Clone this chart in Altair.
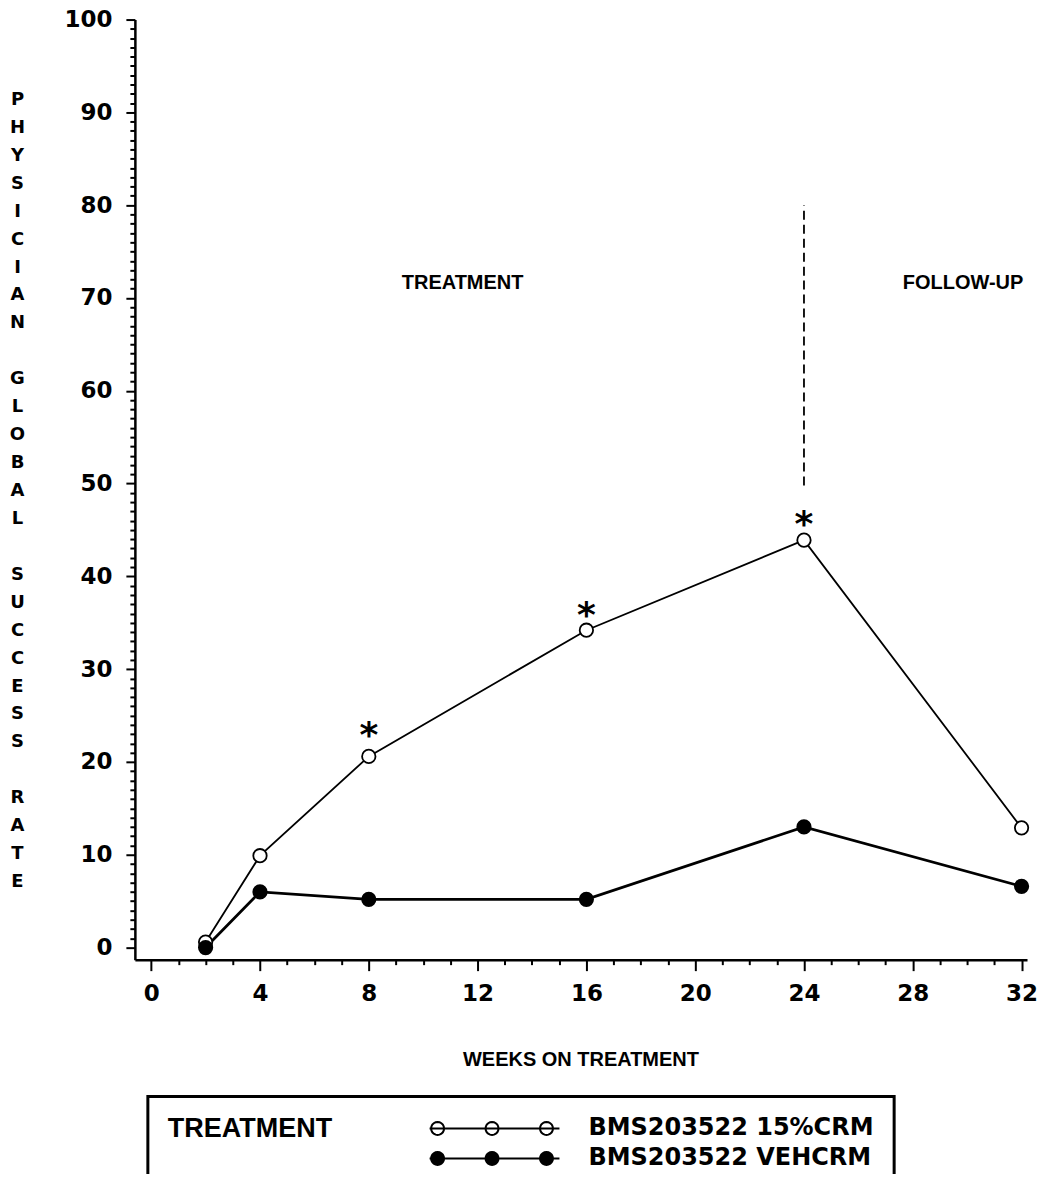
import math
import altair as alt
import pandas as pd

# ---- data ----
weeks = [2, 4, 8, 16, 24, 32]
crm15 = [0.6, 9.9, 20.6, 34.2, 43.9, 12.9]
vehcrm = [0.0, 6.0, 5.2, 5.2, 13.0, 6.6]
series_names = ["BMS203522 15%CRM", "BMS203522 VEHCRM"]

star_weeks = [8, 16, 24]
star_values = [23.8, 36.7, 46.5]

phase_labels = ["TREATMENT", "FOLLOW-UP"]
phase_x = [11.45, 29.85]
phase_y = [71.0, 71.0]

divider_week = [24]
divider_from = [49.8]
divider_to = [80.0]

x_ticks = list(range(0, 33))
y_ticks = list(range(0, 101))
BLANK = "\u2800"
y_title = list("PHYSICIAN") + [BLANK] + list("GLOBAL") + [BLANK] + list("SUCCESS") + [BLANK] + list("RATE")

# ---- tables ----
df = pd.DataFrame({
    "week": weeks * 2,
    "rate": crm15 + vehcrm,
    "series": [series_names[0]] * len(weeks) + [series_names[1]] * len(weeks),
})
stars = pd.DataFrame({"week": star_weeks, "rate": star_values})
phases = pd.DataFrame({"label": phase_labels, "week": phase_x, "rate": phase_y})
divider = pd.DataFrame({"week": divider_week, "y1": divider_from, "y2": divider_to})

x_scale = alt.Scale(domain=[-0.6, 32.2], nice=False, zero=False)
y_scale = alt.Scale(domain=[-1.3, 100], nice=False, zero=False)

x_axis = alt.Axis(
    values=x_ticks,
    tickCount=500,
    format="d",
    labelOverlap=False,
    labelExpr="datum.value % 4 === 0 ? datum.label : ''",
    tickSize={"condition": {"test": "datum.value % 4 === 0", "value": 11}, "value": 5},
    labelPadding=12,
    title="WEEKS ON TREATMENT",
    titleFont="Liberation Sans",
    titleFontSize=20,
    titleFontWeight="bold",
    titleX=446,
    titleY=106,
    titleAlign="center",
    titleBaseline="alphabetic",
)
y_axis = alt.Axis(
    values=y_ticks,
    tickCount=500,
    format="d",
    labelOverlap=False,
    labelExpr="datum.value % 10 === 0 ? datum.label : ''",
    tickSize={"condition": {"test": "datum.value % 10 === 0", "value": 9}, "value": 5},
    labelPadding=14,
    title=y_title,
    titleAngle=0,
    titleFont="DejaVu Sans",
    titleFontSize=18,
    titleFontWeight="bold",
    titleLineHeight=27.96,
    titleX=-118,
    titleY=85,
    titleAlign="center",
    titleBaseline="alphabetic",
)


def ring(cx, r, n=20):
    pts = [(cx + r * math.cos(2 * math.pi * k / n), r * math.sin(2 * math.pi * k / n)) for k in range(n)]
    return "M" + " L".join(f"{x:.3f},{y:.3f}" for x, y in pts) + " Z"


legend_path = "M-0.8,0 L12.2,0 " + " ".join(ring(c, 0.65) for c in [0, 5.45, 10.9])

legend = alt.Legend(
    title="TREATMENT",
    orient="none",
    legendX=13,
    legendY=1078,
    direction="vertical",
    titleOrient="left",
    titleAnchor="start",
    titleBaseline="top",
    titleFont="Liberation Sans",
    titleFontSize=27,
    titleFontWeight="bold",
    titleColor="black",
    titleLimit=300,
    titlePadding=93,
    labelFont="DejaVu Sans",
    labelFontSize=24,
    labelFontWeight="bold",
    labelColor="black",
    labelLimit=400,
    labelOffset=139,
    symbolType=legend_path,
    symbolSize=400,
    symbolStrokeColor="black",
    symbolStrokeWidth=2,
    symbolOpacity=1,
    symbolOffset=0,
    strokeColor="black",
    padding=20,
    rowPadding=6,
)

base = alt.Chart(df)

line_open = base.transform_filter(alt.datum.series == series_names[0]).mark_line(
    color="black", strokeWidth=1.8
).encode(
    x=alt.X("week:Q", scale=x_scale, axis=x_axis),
    y=alt.Y("rate:Q", scale=y_scale, axis=y_axis),
)
line_filled = base.transform_filter(alt.datum.series == series_names[1]).mark_line(
    color="black", strokeWidth=2.8
).encode(
    x=alt.X("week:Q", scale=x_scale),
    y=alt.Y("rate:Q", scale=y_scale),
)

points = base.mark_point(filled=True, stroke="black", strokeWidth=1.8, size=180, opacity=1).encode(
    x=alt.X("week:Q", scale=x_scale),
    y=alt.Y("rate:Q", scale=y_scale),
    fill=alt.Fill("series:N", scale=alt.Scale(domain=series_names, range=["white", "black"]), legend=legend),
)

star_marks = alt.Chart(stars).mark_text(
    text="*", font="DejaVu Sans", fontSize=36, fontWeight="bold", baseline="alphabetic", dy=20, color="black"
).encode(
    x=alt.X("week:Q", scale=x_scale),
    y=alt.Y("rate:Q", scale=y_scale),
)

phase_text = alt.Chart(phases).mark_text(
    font="Liberation Sans", fontSize=20, fontWeight="bold", baseline="alphabetic", align="center", color="black"
).encode(
    x=alt.X("week:Q", scale=x_scale),
    y=alt.Y("rate:Q", scale=y_scale),
    text="label:N",
)

divider_rule = alt.Chart(divider).mark_rule(color="black", strokeWidth=1.8, strokeDash=[9, 5]).encode(
    x=alt.X("week:Q", scale=x_scale),
    y=alt.Y("y1:Q", scale=y_scale),
    y2="y2:Q",
)

chart = alt.layer(divider_rule, line_open, line_filled, points, star_marks, phase_text).properties(
    width=893,
    height=941,
    autosize=alt.AutoSizeParams(type="none"),
    padding={"left": 127, "top": 11, "right": 14, "bottom": 214},
    background="white",
).configure_view(stroke=None).configure_axis(
    grid=False,
    domainColor="black",
    domainWidth=2.5,
    tickColor="black",
    tickWidth=2,
    labelFont="DejaVu Sans",
    labelFontSize=23,
    labelFontWeight="bold",
    labelColor="black",
    titleColor="black",
).configure_axisY(labelAlign="right").configure_legend(strokeWidth=3)

chart.save("out.html", embed_options={"renderer": "svg", "actions": False})
